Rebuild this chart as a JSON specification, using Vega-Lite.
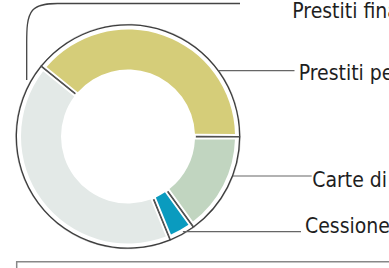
{
  "$schema": "https://vega.github.io/schema/vega-lite/v6.json",
  "width": 256,
  "height": 263,
  "autosize": {"type": "none"},
  "padding": {"left": 0, "top": 5, "right": 133, "bottom": 0},
  "background": "white",
  "config": {"view": {"stroke": null}},
  "datasets": {
    "quote": [
      {"categoria": "Prestiti personali", "quota": 39.2, "ordine": 1},
      {"categoria": "Carte di credito", "quota": 15.0, "ordine": 2},
      {"categoria": "Cessione del quinto", "quota": 3.8, "ordine": 3},
      {"categoria": "Prestiti finalizzati", "quota": 42.0, "ordine": 4}
    ],
    "etichette": [
      {"categoria": "Prestiti finalizzati", "x": 1.467, "y": 1.0554},
      {"categoria": "Prestiti personali", "x": 1.5241, "y": 0.5045},
      {"categoria": "Carte di credito", "x": 1.6455, "y": -0.4482},
      {"categoria": "Cessione del quinto", "x": 1.5804, "y": -0.8643}
    ],
    "richiami": [
      {"categoria": "Prestiti personali", "x": 0.8125, "x2": 1.4866, "y": 0.5875},
      {"categoria": "Carte di credito", "x": 0.9375, "x2": 1.6402, "y": -0.3525},
      {"categoria": "Cessione del quinto", "x": 0.49, "x2": 1.5446, "y": -0.85}
    ],
    "richiamo_curvo": [
      {"i": 1, "x": -0.9045, "y": 0.5045},
      {"i": 2, "x": -0.9045, "y": 0.8259},
      {"i": 3, "x": -0.9045, "y": 1.1875},
      {"i": 4, "x": -0.5893, "y": 1.1875},
      {"i": 5, "x": -0.5179, "y": 1.1875},
      {"i": 6, "x": 1.0, "y": 1.1875}
    ],
    "cornice": [
      {"i": 1, "x": -0.9938, "y": -1.2366},
      {"i": 2, "x": -0.9938, "y": -1.1179},
      {"i": 3, "x": 2.3839, "y": -1.1179}
    ]
  },
  "layer": [
    {
      "data": {"name": "quote"},
      "mark": {"type": "arc", "innerRadius": 68, "outerRadius": 112.3, "color": "#3d3d3d", "stroke": "#3d3d3d", "strokeWidth": 0.3},
      "encoding": {
        "theta": {"field": "quota", "type": "quantitative", "stack": true, "scale": {"range": [-0.8901, 5.3931], "zero": true, "nice": false}},
        "order": {"field": "ordine", "type": "quantitative"},
        "detail": {"field": "categoria", "type": "nominal"}
      }
    },
    {
      "data": {"name": "quote"},
      "mark": {"type": "arc", "innerRadius": 66, "outerRadius": 111, "color": "white", "padAngle": 0.0125},
      "encoding": {
        "theta": {"field": "quota", "type": "quantitative", "stack": true, "scale": {"range": [-0.8901, 5.3931], "zero": true, "nice": false}},
        "order": {"field": "ordine", "type": "quantitative"},
        "detail": {"field": "categoria", "type": "nominal"}
      }
    },
    {
      "data": {"name": "quote"},
      "mark": {"type": "arc", "innerRadius": 67, "outerRadius": 107, "padAngle": 0.044},
      "encoding": {
        "theta": {"field": "quota", "type": "quantitative", "stack": true, "scale": {"range": [-0.8901, 5.3931], "zero": true, "nice": false}},
        "order": {"field": "ordine", "type": "quantitative"},
        "color": {
          "field": "categoria", "type": "nominal", "legend": null,
          "scale": {
            "domain": ["Prestiti personali", "Carte di credito", "Cessione del quinto", "Prestiti finalizzati"],
            "range": ["#d5cd79", "#c1d5c0", "#0a9bbf", "#e3e9e7"]
          }
        }
      }
    },
    {
      "data": {"name": "richiamo_curvo"},
      "mark": {"type": "line", "interpolate": "basis", "color": "#444444", "strokeWidth": 1.3},
      "encoding": {
        "x": {"field": "x", "type": "quantitative", "axis": null, "scale": {"domain": [-1.142857, 1.142857], "nice": false, "zero": false}},
        "y": {"field": "y", "type": "quantitative", "axis": null, "scale": {"domain": [-1.174107, 1.174107], "nice": false, "zero": false}},
        "order": {"field": "i", "type": "quantitative"}
      }
    },
    {
      "data": {"name": "cornice"},
      "mark": {"type": "line", "color": "#888888", "strokeWidth": 1.5},
      "encoding": {
        "x": {"field": "x", "type": "quantitative", "axis": null, "scale": {"domain": [-1.142857, 1.142857], "nice": false, "zero": false}},
        "y": {"field": "y", "type": "quantitative", "axis": null, "scale": {"domain": [-1.174107, 1.174107], "nice": false, "zero": false}},
        "order": {"field": "i", "type": "quantitative"}
      }
    },
    {
      "data": {"name": "richiami"},
      "mark": {"type": "rule", "color": "#666666", "strokeWidth": 1.2},
      "encoding": {
        "x": {"field": "x", "type": "quantitative", "axis": null, "scale": {"domain": [-1.142857, 1.142857], "nice": false, "zero": false}},
        "x2": {"field": "x2"},
        "y": {"field": "y", "type": "quantitative", "axis": null, "scale": {"domain": [-1.174107, 1.174107], "nice": false, "zero": false}}
      }
    },
    {
      "data": {"name": "etichette"},
      "mark": {"type": "text", "align": "left", "baseline": "alphabetic", "font": "DejaVu Sans Condensed", "fontSize": 21, "color": "#1e1e1e"},
      "encoding": {
        "x": {"field": "x", "type": "quantitative", "axis": null, "scale": {"domain": [-1.142857, 1.142857], "nice": false, "zero": false}},
        "y": {"field": "y", "type": "quantitative", "axis": null, "scale": {"domain": [-1.174107, 1.174107], "nice": false, "zero": false}},
        "text": {"field": "categoria", "type": "nominal"}
      }
    }
  ]
}
